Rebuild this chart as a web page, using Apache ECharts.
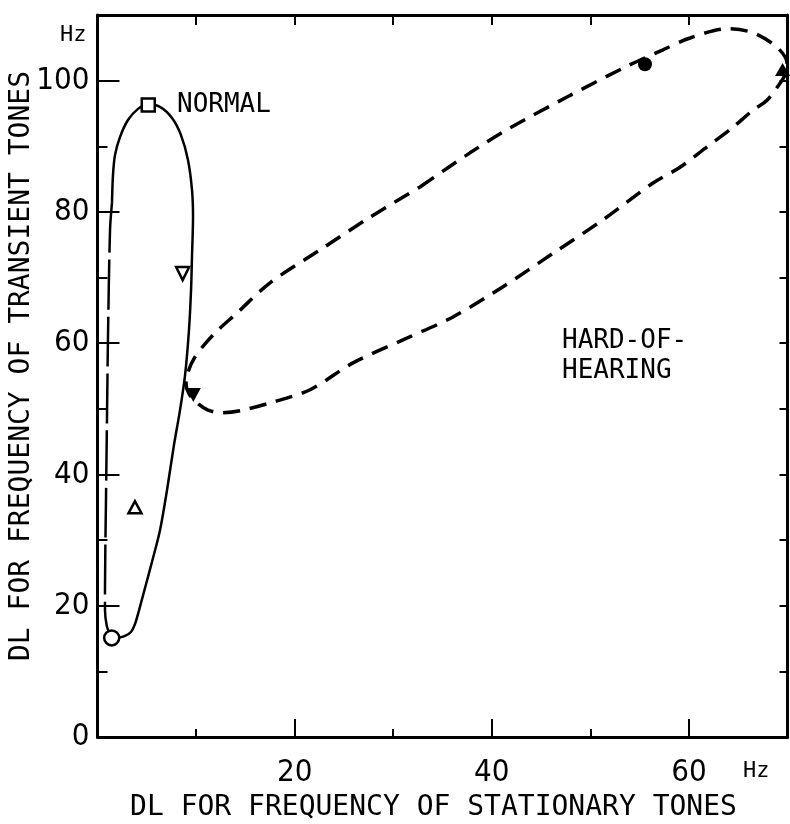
<!DOCTYPE html>
<html>
<head>
<meta charset="utf-8">
<script src="https://cdn.jsdelivr.net/npm/echarts@6/dist/echarts.min.js"></script>
<style>
    html, body { margin: 0; padding: 0; background: #fff; }
    #main { width: 790px; height: 824px; }
</style>
</head>
<body>
<div id="main"></div>
<script>
// curves, [DL stationary, DL transient] in Hz
let normalSolid = [
    [2.08, 15.1], [2.79, 15.4], [3.40, 16.0], [3.80, 17.2], [4.21, 19.3], [4.82, 22.7],
    [5.53, 26.7], [6.34, 31.5], [7.05, 37.6], [7.76, 44.5], [8.37, 49.8], [8.88, 55.1],
    [9.28, 62.0], [9.49, 68.1], [9.59, 73.4], [9.69, 79.2], [9.59, 83.3], [9.18, 87.9],
    [8.47, 91.7], [7.56, 94.3], [6.34, 96.0], [5.12, 96.4], [4.11, 95.7], [3.09, 94.0],
    [2.28, 91.4], [1.78, 88.7], [1.57, 85.6], [1.47, 81.4]
]
let normalDashed = [
    [1.47, 81.4], [1.27, 77.2], [1.07, 61.5], [0.96, 48.3], [0.86, 36.1],
    [0.76, 22.4], [0.76, 19.3], [0.96, 16.8], [1.27, 15.7]
]
let hardLoop = [
    [32.72, 83.8], [37.79, 89.0], [41.85, 92.8], [47.63, 97.5], [53.31, 101.9], [57.37, 104.7],
    [60.11, 106.5], [63.86, 107.9], [66.50, 107.3], [68.93, 105.1], [69.95, 102.7], [69.75, 100.9],
    [69.24, 99.6], [67.92, 97.0], [66.50, 95.5], [64.47, 92.9], [61.83, 89.9], [59.10, 86.8],
    [56.36, 84.4], [51.29, 78.8], [46.22, 73.7], [41.14, 68.6], [36.06, 64.0], [30.99, 60.5],
    [25.92, 57.0], [21.56, 52.9], [17.50, 50.9], [14.46, 49.7], [12.63, 49.4], [11.21, 49.8],
    [10.09, 50.9], [9.28, 52.3], [8.98, 53.8], [9.18, 55.6], [9.89, 57.9], [10.91, 59.9],
    [12.22, 62.0], [14.15, 64.6], [17.50, 69.2], [22.57, 74.2], [27.65, 79.2], [32.72, 83.8]
]

// single measured points
let openCircle = [[1.44, 15.1]]
let openTriangleUp = [[3.80, 35.0]]
let openTriangleDown = [[8.64, 70.6]]
let openSquare = [[5.15, 96.3]]
let filledTriangleDown = [[9.72, 52.1]]
let filledCircle = [[55.54, 102.5]]
let filledTriangleUp = [[69.5, 101.7]]

let xLabels = [20, 40, 60]

let myChart = echarts.init(document.getElementById('main'));

let numFont = "'Liberation Sans Narrow', 'DejaVu Sans Condensed', sans-serif"
let monoFont = "'DejaVu Sans Mono', 'Liberation Mono', monospace"
let black = { color: '#000', width: 2 }

function marker(data, symbol, size, filled, rotate) {
    return {
        type: 'scatter',
        data: data,
        symbol: symbol,
        symbolSize: size,
        symbolRotate: rotate || 0,
        z: 5,
        itemStyle: {
            color: filled ? '#000' : '#fff',
            borderColor: '#000',
            borderWidth: filled ? 0 : 2.5,
            opacity: 1
        }
    }
}

// short tick-only axis (minor ticks / top and right frame)
function tickAxis(gridIndex, position, max, len, showLine) {
    return {
        type: 'value', gridIndex: gridIndex, position: position,
        min: 0, max: max, interval: 10,
        axisLine: { show: showLine, onZero: false, lineStyle: { color: '#000', width: 3 } },
        axisTick: { inside: true, length: len, lineStyle: black },
        axisLabel: { show: false },
        splitLine: { show: false }
    }
}

let gridBox = { left: 97.5, right: 2.5, top: 15, bottom: 87, outerBoundsMode: 'none', containLabel: false }

let option = {
    backgroundColor: '#fff',
    animation: false,
    grid: [gridBox, Object.assign({}, gridBox)],
    xAxis: [{
        type: 'value', gridIndex: 0, min: 0, max: 70, interval: 20, position: 'bottom',
        name: 'DL FOR FREQUENCY OF STATIONARY TONES',
        nameLocation: 'middle', nameGap: 57,
        nameTextStyle: { fontFamily: monoFont, fontSize: 28, color: '#000', padding: [0, 18, 0, 0] },
        axisLine: { onZero: false, lineStyle: { color: '#000', width: 3 } },
        axisTick: { inside: true, length: 18, lineStyle: black },
        axisLabel: {
            margin: 20, showMinLabel: false, showMaxLabel: false,
            fontFamily: numFont, fontSize: 31, color: '#000',
            formatter: function (v) { return xLabels.indexOf(v) >= 0 ? v : '' }
        },
        splitLine: { show: false }
    },
        tickAxis(0, 'top', 70, 10, true),
        tickAxis(1, 'bottom', 70, 8, false)
    ],
    yAxis: [{
        type: 'value', gridIndex: 0, min: 0, max: 110, interval: 20, position: 'left',
        axisLine: { onZero: false, lineStyle: { color: '#000', width: 3 } },
        axisTick: { inside: true, length: 22, lineStyle: black },
        axisLabel: {
            margin: 8, showMaxLabel: false,
            fontFamily: numFont, fontSize: 31, color: '#000'
        },
        splitLine: { show: false }
    },
        tickAxis(0, 'right', 110, 8, true),
        tickAxis(1, 'left', 110, 10, false)
    ],
    graphic: [
        {
            type: 'text', x: 22, y: 366, rotation: Math.PI / 2,
            style: { text: 'DL FOR FREQUENCY OF TRANSIENT TONES', font: "28px " + monoFont, fill: '#000', align: 'center', verticalAlign: 'middle' }
        },
        { type: 'text', x: 60, y: 35, style: { text: 'Hz', font: "22px " + monoFont, fill: '#000', verticalAlign: 'middle' } },
        { type: 'text', x: 743, y: 771, style: { text: 'Hz', font: "22px " + monoFont, fill: '#000', verticalAlign: 'middle' } },
        { type: 'text', x: 177, y: 105, style: { text: 'NORMAL', font: "26px " + monoFont, fill: '#000', verticalAlign: 'middle' } },
        { type: 'text', x: 562, y: 341, style: { text: 'HARD-OF-', font: "26px " + monoFont, fill: '#000', verticalAlign: 'middle' } },
        { type: 'text', x: 562, y: 371, style: { text: 'HEARING', font: "26px " + monoFont, fill: '#000', verticalAlign: 'middle' } }
    ],
    series: [{
        type: 'line', data: normalSolid, smooth: 0.3, showSymbol: false,
        lineStyle: { color: '#000', width: 2.5 }
    }, {
        type: 'line', data: normalDashed, smooth: 0.3, showSymbol: false,
        lineStyle: { color: '#000', width: 2.5, type: [50, 7] }
    }, {
        type: 'line', data: hardLoop, smooth: 0.3, showSymbol: false,
        lineStyle: { color: '#000', width: 3.5, type: [17, 10] }
    },
        marker(openCircle, 'circle', 15, false),
        marker(openTriangleUp, 'triangle', [13, 12], false),
        marker(openTriangleDown, 'triangle', [13, 13], false, 180),
        marker(openSquare, 'rect', 13, false),
        marker(filledTriangleDown, 'triangle', [15, 14], true, 180),
        marker(filledCircle, 'circle', 14, true),
        marker(filledTriangleUp, 'triangle', [15, 13], true)
    ]
};

myChart.setOption(option);
</script>
</body>
</html>
